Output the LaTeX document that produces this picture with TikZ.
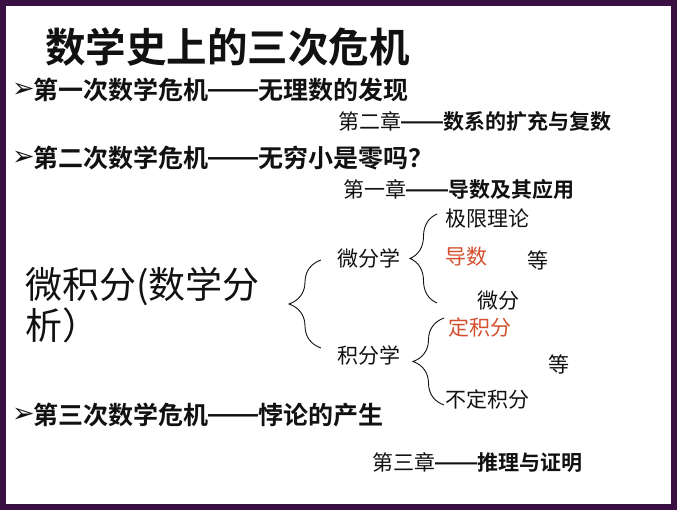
\documentclass[tikz,border=0pt]{standalone}
\usepackage{fontspec}
\usepackage{tikz}
\usetikzlibrary{decorations.pathreplacing}
\setmainfont{Liberation Sans}
\newfontfamily\cjk{Noto Sans CJK SC}[BoldFont={Noto Sans CJK SC Bold}]
\newfontfamily\dingfont{DejaVu Sans}
\definecolor{ink}{HTML}{111111}
\definecolor{frame}{HTML}{3A1042}
\definecolor{hot}{HTML}{D4502E}
\newcommand{\fsz}[1]{\fontsize{#1}{1.15\dimexpr#1pt\relax}\selectfont}
\newcommand{\wdash}{{\rmfamily\raisebox{.09em}{——}}}
\tikzset{
  txt/.style={anchor=west,inner sep=0pt,text=ink},
  crisis/.style={txt,font=\cjk\bfseries\fsz{25}},
  arrowbul/.style={txt,font=\dingfont\fsz{27}},
  chapter/.style={txt,font=\cjk\fsz{21}},
  leaf/.style={txt,font=\cjk\fsz{21}},
  curly/.style={decorate,decoration={brace,amplitude=#1},ink,line width=.9pt},
}

\begin{document}
\begin{tikzpicture}[x=1pt,y=-1pt]
\useasboundingbox (0,0) rectangle (677,510);
% slide frame
\draw[frame,line width=6pt] (3,3) rectangle (674,507);
% title
\node[txt,font=\cjk\bfseries\fsz{40.5}] (title) at (45,47) {数学史上的三次危机};
% crises and chapters
\node[arrowbul] (dotA) at (12,90) {➢};
\node[crisis] (crisisA) at (33,90) {第一次数学危机\wdash 无理数的发现};
\node[chapter] (chapB) at (338,122) {第二章{\bfseries\wdash 数系的扩充与复数}};
\node[arrowbul] (dotB) at (12,158) {➢};
\node[crisis] (crisisB) at (33,158) {第二次数学危机\wdash 无穷小是零吗？};
\node[chapter] (chapA) at (343,190) {第一章{\bfseries\wdash 导数及其应用}};
\node[arrowbul] (dotC) at (12,415) {➢};
\node[crisis] (crisisC) at (33,415) {第三次数学危机\wdash 悖论的产生};
\node[chapter] (chapC) at (372,463) {第三章{\bfseries\wdash 推理与证明}};
% calculus tree
\node[txt,font=\cjk\fsz{37},align=left] (calc) at (25,305) {微积分(数学分\\[-2pt]析）};
\node[leaf] (diff) at (337,258) {微分学};
\node[leaf] (integ) at (337,355) {积分学};
\node[leaf] (limit) at (445,219) {极限理论};
\node[leaf,text=hot] (deriv) at (445,257) {导数};
\node[leaf] (etcA) at (527,260) {等};
\node[leaf] (differ) at (477,301) {微分};
\node[leaf,text=hot] (defint) at (448,327) {定积分};
\node[leaf] (etcB) at (548,364) {等};
\node[leaf] (indef) at (445,399) {不定积分};
% braces
\coordinate (bigLo) at (321,348);
\coordinate (bigHi) at (321,260);
\coordinate (diffLo) at (437,303);
\coordinate (diffHi) at (437,214);
\coordinate (integLo) at (444,405);
\coordinate (integHi) at (444,318);
\draw[curly=32pt] (bigLo) -- (bigHi);
\draw[curly=27pt] (diffLo) -- (diffHi);
\draw[curly=31pt] (integLo) -- (integHi);
\end{tikzpicture}
\end{document}
